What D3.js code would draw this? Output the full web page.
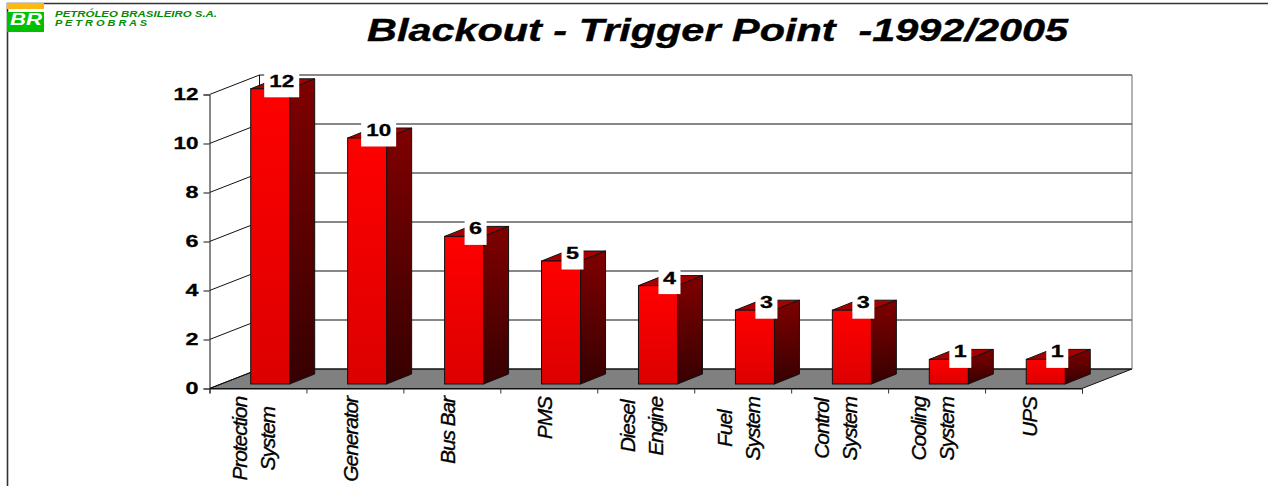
<!DOCTYPE html>
<html><head><meta charset="utf-8">
<script src="https://cdnjs.cloudflare.com/ajax/libs/d3/7.8.5/d3.min.js"></script>
<style>
html,body{margin:0;padding:0;background:#fff;overflow:hidden}
svg{display:block}
text{font-family:"Liberation Sans",Arial,sans-serif}
</style></head><body>
<script>
const categories=[["Protection","System"],["Generator"],["Bus Bar"],["PMS"],["Diesel","Engine"],["Fuel","System"],["Control","System"],["Cooling","System"],["UPS"]];
const values=[12,10,6,5,4,3,3,1,1];
const yTicks=[0,2,4,6,8,10,12];
const titleText="Blackout - Trigger Point  -1992/2005";
const companyLines=["PETRÓLEO BRASILEIRO S.A.","P E T R O B R A S"];

const W=1268,H=486;
const svg=d3.select("body").append("svg").attr("width",W).attr("height",H);
const defs=svg.append("defs");
const grad=(id,a,b)=>{const g=defs.append("linearGradient").attr("id",id).attr("x1",0).attr("y1",0).attr("x2",0).attr("y2",1);
  g.append("stop").attr("offset",0).attr("stop-color",a);g.append("stop").attr("offset",1).attr("stop-color",b);};
grad("front","#ff0000","#dc0000");grad("side","#800000","#360000");

// page frame
svg.append("path").attr("d",`M7.5,${H}V3.5H${W}`).attr("fill","none").attr("stroke","#333").attr("stroke-width",1.6);

// logo
svg.append("rect").attr("x",7).attr("y",3).attr("width",37).attr("height",6).attr("fill","#fdb813");
svg.append("rect").attr("x",7).attr("y",12).attr("width",37).attr("height",20).attr("fill","#00c000");
svg.append("text").attr("x",26).attr("y",25).attr("text-anchor","middle").attr("fill","#fff")
  .attr("font-size",16.5).attr("font-weight","bold").attr("font-style","italic").attr("textLength",32).attr("lengthAdjust","spacingAndGlyphs").text("BR");
svg.selectAll("text.co").data(companyLines).join("text").attr("class","co").attr("x",55).attr("y",(d,i)=>i?26:17)
  .attr("fill","#058a05").attr("font-size",9.4).attr("font-weight","bold").attr("font-style","italic")
  .attr("textLength",(d,i)=>i?92:162).attr("lengthAdjust","spacingAndGlyphs").text(d=>d);

// title
svg.append("text").attr("x",367).attr("y",41).attr("font-size",32).attr("font-weight","bold").attr("font-style","italic")
  .attr("stroke","#000").attr("stroke-width",0.4)
  .style("white-space","pre").attr("textLength",701).attr("lengthAdjust","spacingAndGlyphs").text(titleText);

// scales
const x=d3.scaleBand().domain(d3.range(categories.length)).range([209.5,1082]);
const y=d3.scaleLinear().domain([0,12]).range([388.5,94.5]);
const depthX=50,depthY=-19.5;
const x0=x.range()[0],x1=x.range()[1];

// walls + floor
svg.append("path").attr("d",`M${x0},${y(0)}L${x0+depthX},${y(0)+depthY}H${x1+depthX}L${x1},${y(0)}Z`).attr("fill","#808080").attr("stroke","#111").attr("stroke-width",1);
const grid=svg.append("g").attr("fill","none").attr("stroke","#111").attr("stroke-width",1);
yTicks.forEach(t=>{
  grid.append("path").attr("d",`M${x0},${y(t)}L${x0+depthX},${y(t)+depthY}H${x1+depthX}`);
});
grid.append("path").attr("d",`M${x0+depthX},${y(0)+depthY}V${y(12)+depthY}`);
grid.append("path").attr("d",`M${x1+depthX},${y(0)+depthY}V${y(12)+depthY}`).attr("stroke","#666");

// axes
const axL=svg.append("g").attr("transform",`translate(${x0},0)`).call(d3.axisLeft(y).tickValues(yTicks).tickSize(6).tickPadding(5));
axL.select(".domain").attr("stroke","#111");
axL.selectAll(".tick line").attr("stroke","#555").attr("stroke-width",1.4);
axL.selectAll(".tick text").attr("fill","#000").attr("font-size",17).attr("font-weight","bold")
  .attr("stroke","#000").attr("stroke-width",0.3)
  .attr("font-family",'"Liberation Sans",Arial,sans-serif')
  .attr("textLength",t=>t>=10?25:13).attr("lengthAdjust","spacingAndGlyphs");
const axB=svg.append("g").attr("transform",`translate(0,${y(0)})`)
  .call(d3.axisBottom(d3.scaleLinear().domain([0,categories.length]).range([x0,x1])).ticks(categories.length).tickSize(5).tickFormat(""));
axB.select(".domain").attr("stroke","#111");
axB.selectAll(".tick line").attr("stroke","#333");

// bars
const barOffX=41.2,barW=39,bdx=25,bdy=-10,barLift=4.5;
const bars=svg.selectAll("g.bar").data(values).join("g").attr("class","bar");
const bx=i=>x(i)+barOffX;
const by=v=>y(v)-barLift-v/12*1.2;
bars.append("path").attr("d",(v,i)=>`M${bx(i)},${by(v)}l${bdx},${bdy}h${barW}l${-bdx},${-bdy}Z`).attr("fill","#a80000").attr("stroke","#111");
bars.append("path").attr("d",(v,i)=>`M${bx(i)+barW},${by(v)}l${bdx},${bdy}V${y(0)-barLift+bdy}l${-bdx},${-bdy}Z`).attr("fill","url(#side)").attr("stroke","#111");
bars.append("rect").attr("x",(v,i)=>bx(i)).attr("y",v=>by(v)).attr("width",barW).attr("height",v=>y(0)-barLift-by(v)).attr("fill","url(#front)").attr("stroke","#111");

// value labels
const lab=svg.selectAll("g.vl").data(values).join("g").attr("class","vl");
const lw=v=>v>=10?35:22;
lab.append("rect").attr("x",(v,i)=>bx(i)+31-lw(v)/2).attr("y",v=>by(v)-16).attr("width",lw).attr("height",24.5).attr("fill","#fff");
lab.append("text").attr("x",(v,i)=>bx(i)+31).attr("y",v=>by(v)-2).attr("text-anchor","middle").attr("font-size",17).attr("font-weight","bold")
  .attr("stroke","#000").attr("stroke-width",0.3)
  .attr("textLength",v=>v>=10?25:13).attr("lengthAdjust","spacingAndGlyphs").text(d=>d);

// category labels: each block hangs from a common top line, its lines centred in it
const labelTop=397,lineGap=28;
svg.selectAll("g.cat").data(categories).join("g").attr("class","cat").each(function(lines,i){
  const cx=x(i)+x.bandwidth()/2-0.5;
  const g=d3.select(this);
  const n=lines.length;
  const texts=g.selectAll("text").data(lines).join("text")
     .attr("font-size",21).attr("font-style","italic").attr("letter-spacing","-1.1px").attr("stroke","#000").attr("stroke-width",0.35)
     .attr("text-anchor","middle").text(s=>s);
  const mx=d3.max(texts.nodes().map(t=>t.getComputedTextLength()));
  texts.attr("transform",(s,j)=>`translate(${cx+3.6+(n==2?(j-0.5)*lineGap:0)},${labelTop+mx/2}) rotate(-90)`);
});
</script></body></html>
